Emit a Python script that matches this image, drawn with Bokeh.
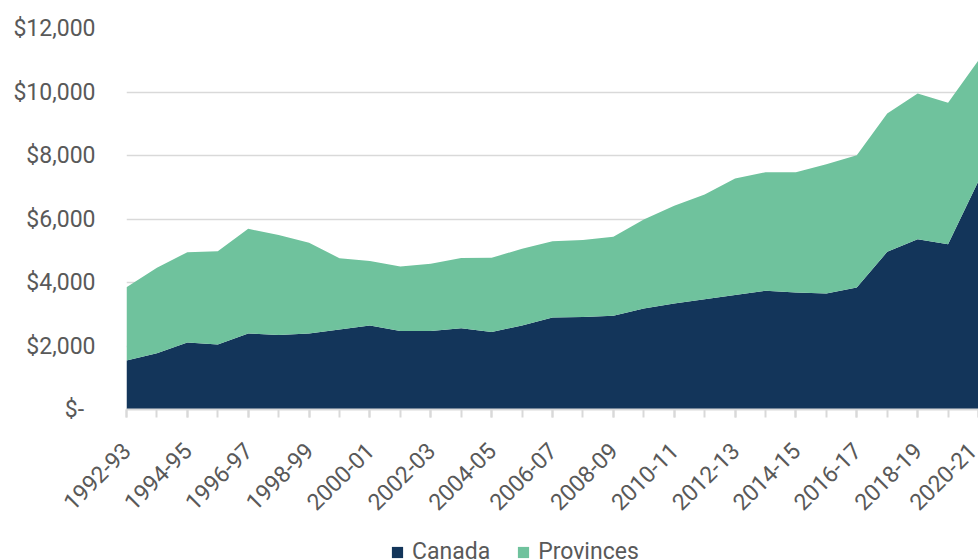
import math
from bokeh.plotting import figure
from bokeh.layouts import column
from bokeh.models import (ColumnDataSource, FixedTicker, Range1d, NumeralTickFormatter,
                          Legend, LegendItem)
from bokeh.embed import file_html
from bokeh.resources import INLINE

years = ["1992-93", "1993-94", "1994-95", "1995-96", "1996-97", "1997-98",
         "1998-99", "1999-00", "2000-01", "2001-02", "2002-03", "2003-04",
         "2004-05", "2005-06", "2006-07", "2007-08", "2008-09", "2009-10",
         "2010-11", "2011-12", "2012-13", "2013-14", "2014-15", "2015-16",
         "2016-17", "2017-18", "2018-19", "2019-20", "2020-21"]

canada = [1545, 1775, 2110, 2050, 2395, 2350, 2395, 2520, 2645, 2470,
          2470, 2560, 2440, 2645, 2900, 2910, 2950, 3180, 3340, 3475,
          3610, 3740, 3685, 3655, 3845, 4965, 5365, 5205, 7200]

provinces = [2305, 2690, 2845, 2935, 3295, 3150, 2855, 2245, 2035, 2035,
             2120, 2215, 2340, 2415, 2400, 2430, 2490, 2805, 3075, 3295,
             3665, 3735, 3790, 4070, 4165, 4360, 4590, 4455, 3800]

series_names = ["Canada", "Provinces"]
y_ticks = [0, 2000, 4000, 6000, 8000, 10000, 12000]

NAVY = "#13355A"
GREEN = "#6FC29D"
GRID = "#D9D9D9"
TXT = "#595959"
FONT = "Roboto"

x = list(range(len(years)))
src = ColumnDataSource(dict(x=x, canada=canada, provinces=provinces))

LEG_H = 30

p = figure(width=978, height=559 - LEG_H, output_backend="svg", toolbar_location=None,
           x_range=Range1d(0, len(years) - 1), y_range=Range1d(0, 12000),
           min_border_left=126, min_border_right=0, min_border_top=28,
           min_border_bottom=120)

rs = p.varea_stack(["canada", "provinces"], x="x", source=src, color=[NAVY, GREEN])

p.outline_line_color = None
p.background_fill_color = "white"
p.border_fill_color = "white"

# x axis
xa = p.xaxis[0]
xa.ticker = FixedTicker(ticks=[i for i in x if i % 2 == 0], minor_ticks=x)
xa.major_label_overrides = {i: years[i] for i in x if i % 2 == 0}
xa.major_label_orientation = math.pi / 4
xa.axis_line_color = GRID
xa.axis_line_width = 2
xa.major_tick_line_color = GRID
xa.minor_tick_line_color = GRID
xa.major_tick_line_width = 2
xa.minor_tick_line_width = 2
xa.major_tick_in = 0
xa.minor_tick_in = 0
xa.major_tick_out = 8
xa.minor_tick_out = 8
xa.major_label_standoff = 29
xa.major_label_text_font = FONT
xa.major_label_text_font_size = "23px"
xa.major_label_text_color = TXT

# y axis
ya = p.yaxis[0]
ya.ticker = FixedTicker(ticks=y_ticks)
ya.formatter = NumeralTickFormatter(format="$0,0")
ya.major_label_overrides = {0: "$-\u00a0\u00a0"}
ya.axis_line_color = None
ya.major_tick_line_color = None
ya.minor_tick_line_color = None
ya.major_tick_out = 0
ya.major_label_standoff = 31
ya.major_label_text_font = FONT
ya.major_label_text_font_size = "23px"
ya.major_label_text_color = TXT

p.xgrid.grid_line_color = None
p.ygrid.grid_line_color = GRID
p.ygrid.grid_line_width = 1.5
p.ygrid.level = "underlay"

# legend strip (a second figure whose data lies outside its view)
p2 = figure(width=978, height=LEG_H, output_backend="svg", toolbar_location=None,
            x_range=Range1d(0, 1), y_range=Range1d(-2e5, -1e5),
            x_axis_type=None, y_axis_type=None,
            min_border_left=0, min_border_right=0, min_border_top=0, min_border_bottom=0)
p2.outline_line_color = None
p2.xgrid.visible = False
p2.ygrid.visible = False
rs2 = p2.varea_stack(["canada", "provinces"], x="x", source=src, color=[NAVY, GREEN])

lg = Legend(items=[LegendItem(label=series_names[i], renderers=[rs2[i]]) for i in range(2)])
lg.orientation = "horizontal"
lg.location = (264, -6)
lg.label_text_font = FONT
lg.label_text_font_size = "23px"
lg.label_text_color = TXT
lg.glyph_width = 14
lg.glyph_height = 14
lg.label_standoff = 8
lg.spacing = 26
lg.padding = 0
lg.margin = 0
lg.border_line_color = None
lg.background_fill_alpha = 0
p2.add_layout(lg, "center")

layout = column(p, p2, spacing=0)
open("out.html", "w").write(file_html(layout, INLINE))
